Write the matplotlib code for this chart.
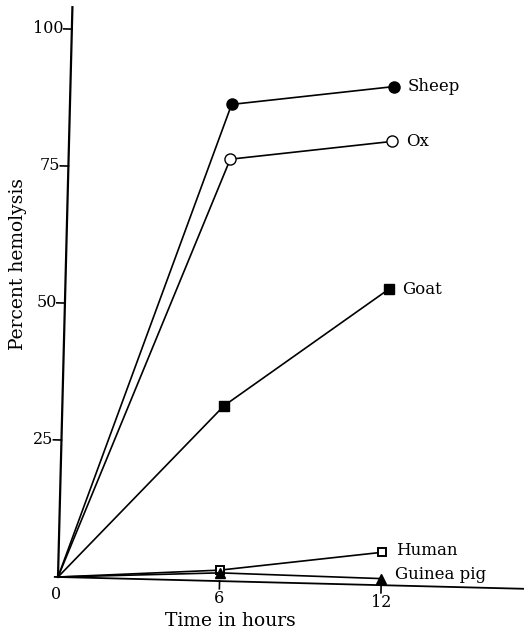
import matplotlib
matplotlib.use("Agg")
import matplotlib.pyplot as plt
from matplotlib.transforms import Affine2D

# Hemolysis of red cells from several species over time
hours = [0, 6, 12]
species = ["Sheep", "Ox", "Goat", "Human", "Guinea pig"]
sheep = [0, 87, 91]
ox = [0, 77, 81]
goat = [0, 32, 54]
human = [0, 2, 6]
guinea_pig = [0, 1.5, 1.2]

x_ticks = [6, 12]
y_ticks = [25, 50, 75, 100]

series = [sheep, ox, goat, human, guinea_pig]
styles = [
    dict(marker="o", ms=8, mfc="black", mec="black"),
    dict(marker="o", ms=8, mfc="white", mec="black"),
    dict(marker="s", ms=6.5, mfc="black", mec="black"),
    dict(marker="s", ms=5.5, mfc="white", mec="black", mew=1.4),
    dict(marker="^", ms=6.5, mfc="black", mec="black"),
]
label_dy = [0, 0, 0, 1, 3]

plt.rcParams["font.family"] = ["DejaVu Serif"]
FS = 11.5

fig = plt.figure(figsize=(5.24, 6.36), dpi=100)
ax = fig.add_axes([58 / 524, 59 / 636, 466 / 524, 570 / 636])
ax.set_xlim(0, 17.3)
ax.set_ylim(0, 104)
ax.axis("off")

# the whole drawing sits slightly tilted on the page
ox0, oy0 = ax.transAxes.transform((0, 0))
tilt = Affine2D().rotate_deg_around(ox0, oy0, -1.45)
T = ax.transData + tilt

# axis lines
ax.plot([0, 0], [0, 104], color="black", lw=1.6, transform=T, clip_on=False)
ax.plot([-0.12, 18.5], [0, 0], color="black", lw=1.3, transform=T, clip_on=False)

# ticks and tick labels
for v in y_ticks:
    ax.plot([-0.3, 0], [v, v], color="black", lw=1.2, transform=T, clip_on=False)
    ax.text(-0.3, v, str(v), ha="right", va="center", fontsize=FS,
            transform=T)
for t in x_ticks:
    ax.plot([t, t], [0, -1.4], color="black", lw=1.2, transform=T, clip_on=False)
    ax.text(t, -1.7, str(t), ha="center", va="top", fontsize=FS, transform=T)
ax.text(-0.05, -1.6, "0", ha="center", va="top", fontsize=FS, transform=T)

for name, vals, st, dy in zip(species, series, styles, label_dy):
    ax.plot(hours, vals, color="black", lw=1.2, clip_on=False, zorder=3,
            markevery=[1, 2], transform=T, **st)
    ax.annotate(name, (hours[-1], vals[-1]), xycoords=T, xytext=(10, dy),
                textcoords="offset points", va="center", ha="left",
                fontsize=12)

ax.text(0.369, -0.077, "Time in hours", ha="center", va="center",
        fontsize=13.5, transform=ax.transAxes)
ax.text(-0.086, 0.55, "Percent hemolysis", ha="center", va="center",
        rotation=90, fontsize=13.5, transform=ax.transAxes)

fig.savefig("out.png", dpi=100)
